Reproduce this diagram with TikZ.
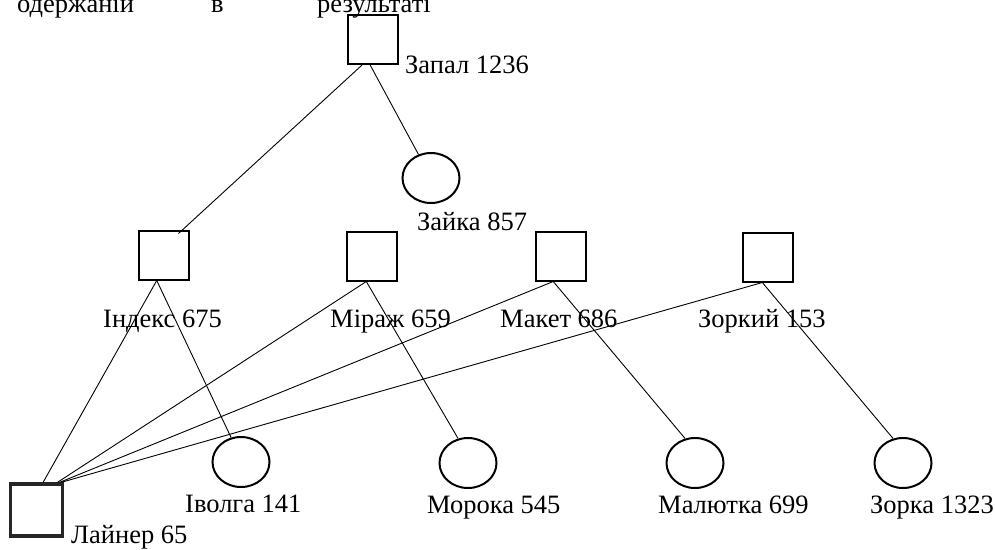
\documentclass[tikz,border=0pt]{standalone}
\usepackage{fontspec}
\setmainfont{Liberation Serif}
\usetikzlibrary{shapes.geometric,calc}
\begin{document}
\begin{tikzpicture}[x=1pt,y=-1pt,
 sq/.style={draw,line width=2pt,minimum width=50pt,minimum height=49pt,inner sep=0pt},
 ov/.style={draw,ellipse,line width=2pt,minimum width=57pt,minimum height=50pt,inner sep=0pt},
 lbl/.style={anchor=base west,inner sep=0pt,font=\fontsize{26.5}{30}\selectfont},
 toptxt/.style={anchor=base west,inner sep=0pt,font=\fontsize{26.5}{30}\selectfont},
 edge/.style={line width=0.9pt}]
\useasboundingbox (0,0) rectangle (996,549);
\clip (0,0) rectangle (996,549);
\fill[white] (0,0) rectangle (996,549);
% top text (cut at the top edge, as in the reference)
\node[toptxt] (t1) at (17,12) {одержаній};
\node[toptxt] (t2) at (211,12) {в};
\node[toptxt] (t3) at (317,12) {результаті};
% nodes
\node[sq] (zap) at (373,39) {};
\node[lbl] (lzap) at (405,73) {Запал 1236};
\node[ov] (zay) at (431,178) {};
\node[lbl] (lzay) at (417,230) {Зайка 857};
\node[sq] (ind) at (163.5,255) {};
\node[lbl] (lind) at (103,327) {Індекс 675};
\node[sq] (mir) at (371.5,256) {};
\node[lbl] (lmir) at (330,327) {Міраж 659};
\node[sq] (mak) at (560.5,256) {};
\node[lbl] (lmak) at (500,327) {Макет 686};
\node[sq] (zor) at (767.5,257) {};
\node[lbl] (lzor) at (698,327) {Зоркий 153};
\node[ov] (ivo) at (241,462) {};
\node[lbl] (livo) at (185,512) {Іволга 141};
\node[ov] (mor) at (468,463) {};
\node[lbl] (lmor) at (427,513) {Морока 545};
\node[ov] (mal) at (695,463) {};
\node[lbl] (lmal) at (658,513) {Малютка 699};
\node[ov] (zka) at (903,463) {};
\node[lbl] (lzka) at (870,513) {Зорка 1323};
\node[sq,line width=3.5pt,draw=black!85,minimum width=52pt,minimum height=52pt] (lay) at (36.5,510) {};
\node[lbl] (llay) at (71,543) {Лайнер 65};
% connectors
\coordinate (zapL) at ($(zap.south west)!0.3!(zap.south east)$);
\coordinate (zapR) at ($(zap.south west)!0.44!(zap.south east)$);
\coordinate (indIn) at ($(ind.north east)+(-11,4)$);
\draw[edge] (zapL) -- (indIn);
\draw[edge] (zapR) -- (zay.118);
\coordinate (indB) at ($(ind.south west)!0.37!(ind.south east)$);
\coordinate (mirB) at ($(mir.south west)!0.4!(mir.south east)$);
\coordinate (makB) at ($(mak.south west)!0.36!(mak.south east)$);
\coordinate (zorB) at ($(zor.south west)!0.4!(zor.south east)$);
\coordinate (lay1) at ($(lay.north west)!0.62!(lay.north east)$);
\coordinate (lay2) at ($(lay.north west)!0.88!(lay.north east)$);
\coordinate (lay3) at ($(lay.north west)!0.92!(lay.north east)$);
\coordinate (lay4) at ($(lay.north west)!0.95!(lay.north east)$);
\draw[edge] (indB) -- (lay1);
\draw[edge] (mirB) -- (lay2);
\draw[edge] (makB) -- (lay3);
\draw[edge] (zorB) -- (lay4);
\draw[edge] (indB) -- (ivo.112);
\draw[edge] (mirB) -- (mor.112);
\draw[edge] (makB) -- (mal.112);
\draw[edge] (zorB) -- (zka.112);
\end{tikzpicture}
\end{document}
